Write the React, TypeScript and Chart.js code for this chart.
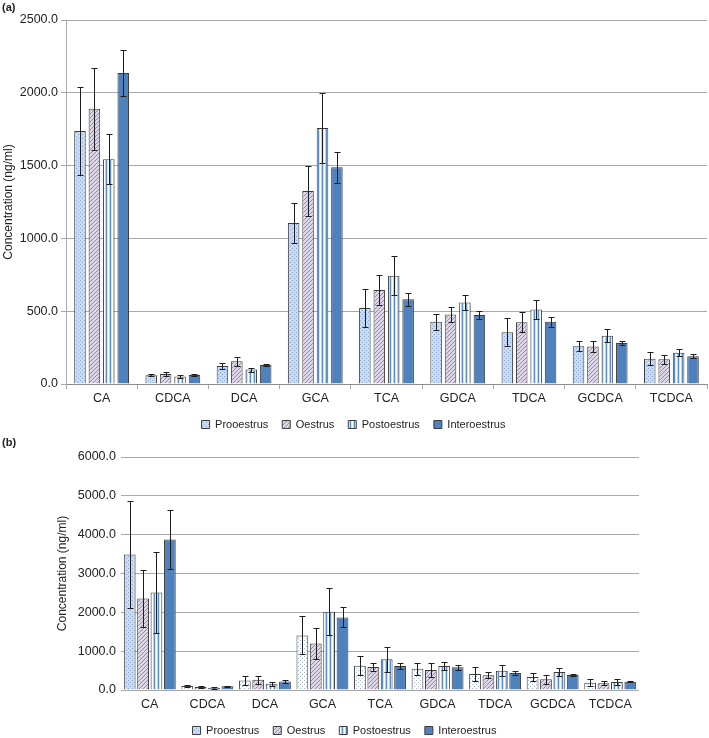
import React, { useEffect, useRef } from "react";
import { Chart, registerables } from "chart.js";

Chart.register(...registerables);

const categories = ["CA", "CDCA", "DCA", "GCA", "TCA", "GDCA", "TDCA", "GCDCA", "TCDCA"];
const seriesNames = ["Prooestrus", "Oestrus", "Postoestrus", "Interoestrus"];

// Panel (a)
const proA = [1738, 60, 124, 1106, 522, 428, 355, 259, 174];
const proAErr = [300, 8, 18, 137, 130, 56, 96, 33, 45];
const oesA = [1891, 69, 157, 1326, 646, 478, 424, 257, 170];
const oesAErr = [282, 16, 30, 172, 104, 53, 68, 37, 30];
const postA = [1543, 52, 99, 1758, 744, 559, 511, 332, 215];
const postAErr = [172, 9, 14, 238, 136, 54, 63, 45, 23];
const interA = [2136, 62, 130, 1488, 582, 474, 428, 282, 190];
const interAErr = [160, 5, 7, 107, 46, 26, 34, 15, 14];

// Panel (b)
const proB = [3489, 100, 244, 1406, 626, 549, 411, 334, 189];
const proBErr = [1385, 35, 110, 490, 240, 155, 185, 95, 90];
const oesB = [2357, 75, 262, 1200, 591, 514, 377, 274, 171];
const oesBErr = [737, 25, 110, 400, 105, 190, 80, 120, 50];
const postB = [2512, 55, 159, 2014, 789, 617, 497, 463, 206];
const postBErr = [1054, 20, 55, 610, 330, 100, 145, 100, 75];
const interB = [3875, 95, 219, 1869, 617, 583, 437, 386, 214];
const interBErr = [764, 15, 35, 257, 85, 60, 50, 35, 20];

const ticksA = [0, 500, 1000, 1500, 2000, 2500];
const ticksB = [0, 1000, 2000, 3000, 4000, 5000, 6000];

const FONT = "'Liberation Sans', Arial, sans-serif";
const TEXT = "#222222";
const GRID = "#a9a9a9";
const BORDER = "#3c3c3c";

function makePattern(w: number, h: number, draw: (c: CanvasRenderingContext2D) => void): CanvasPattern | string {
  const cv = document.createElement("canvas");
  cv.width = w;
  cv.height = h;
  const c = cv.getContext("2d")!;
  draw(c);
  const ctx = document.createElement("canvas").getContext("2d")!;
  return ctx.createPattern(cv, "repeat") || "#ccc";
}

function dots(bg: string, dot: string) {
  return makePattern(4, 4, (c) => {
    c.fillStyle = bg;
    c.fillRect(0, 0, 4, 4);
    c.fillStyle = dot;
    c.fillRect(0, 0, 1, 1);
    c.fillRect(2, 2, 1, 1);
  });
}

function hatch() {
  return makePattern(4, 4, (c) => {
    c.fillStyle = "#dcd6e8";
    c.fillRect(0, 0, 4, 4);
    c.fillStyle = "#9389ab";
    c.fillRect(3, 0, 1, 1);
    c.fillRect(2, 1, 1, 1);
    c.fillRect(1, 2, 1, 1);
    c.fillRect(0, 3, 1, 1);
  });
}

function stripes() {
  return makePattern(4, 4, (c) => {
    const cols = ["#ffffff", "#b9d3f0", "#5b8dcc", "#d8e7f7"];
    cols.forEach((col, i) => {
      c.fillStyle = col;
      c.fillRect(i, 0, 1, 4);
    });
  });
}

const errorBarPlugin = {
  id: "errorBars",
  afterDatasetsDraw(chart: any, _args: any, opts: any) {
    const errs: number[][] = opts.errors || [];
    const ctx = chart.ctx;
    const yScale = chart.scales.y;
    ctx.save();
    ctx.strokeStyle = "#1e1e1e";
    ctx.lineWidth = 1;
    chart.data.datasets.forEach((ds: any, di: number) => {
      const meta = chart.getDatasetMeta(di);
      const e = errs[di];
      if (!e) return;
      meta.data.forEach((el: any, i: number) => {
        const v = ds.data[i];
        const x = Math.round(el.x) + 0.5;
        const yTop = Math.round(yScale.getPixelForValue(v + e[i])) + 0.5;
        const yBot = Math.round(yScale.getPixelForValue(Math.max(v - e[i], 0))) + 0.5;
        ctx.beginPath();
        ctx.moveTo(x, yTop);
        ctx.lineTo(x, yBot);
        ctx.moveTo(x - 3, yTop);
        ctx.lineTo(x + 3, yTop);
        ctx.moveTo(x - 3, yBot);
        ctx.lineTo(x + 3, yBot);
        ctx.stroke();
      });
    });
    ctx.restore();
  },
};

type PanelCfg = {
  values: number[][];
  errors: number[][];
  ticks: number[];
  max: number;
  padding: { left: number; right: number; top: number; bottom: number };
  yWidth: number;
  xHeight: number;
  titlePadTop: number;
  categoryPercentage: number;
  barPercentage: number;
  panelB: boolean;
};

const cfgA: PanelCfg = {
  values: [proA, oesA, postA, interA],
  errors: [proAErr, oesAErr, postAErr, interAErr],
  ticks: ticksA,
  max: 2500,
  padding: { left: 0, right: 2, top: 20, bottom: 0 },
  yWidth: 66,
  xHeight: 21,
  titlePadTop: 1,
  categoryPercentage: 0.81,
  barPercentage: 0.8,
  panelB: false,
};

const cfgB: PanelCfg = {
  values: [proB, oesB, postB, interB],
  errors: [proBErr, oesBErr, postBErr, interBErr],
  ticks: ticksB,
  max: 6000,
  padding: { left: 50, right: 70, top: 17, bottom: 0 },
  yWidth: 71,
  xHeight: 21,
  titlePadTop: 5,
  categoryPercentage: 0.93,
  barPercentage: 0.88,
  panelB: true,
};

function Panel({ w, h, cfg }: { w: number; h: number; cfg: PanelCfg }) {
  const ref = useRef<HTMLCanvasElement>(null);
  useEffect(() => {
    if (!ref.current) return;
    const blueDots = dots("#c8dbf2", "#8ca8d0");
    const whiteDots = dots("#ffffff", "#a5b6cc");
    const hatchP = hatch();
    const stripeP = stripes();
    const proFill = cfg.panelB
      ? (c: any) => (c.type === "data" && c.dataIndex === 0 ? blueDots : whiteDots)
      : blueDots;
    const fills: any[] = [proFill, hatchP, stripeP, "#4f81bd"];
    const datasets = seriesNames.map((name, i) => ({
      label: name,
      data: cfg.values[i],
      backgroundColor: fills[i],
      borderColor: BORDER,
      borderWidth: 1,
      categoryPercentage: cfg.categoryPercentage,
      barPercentage: cfg.barPercentage,
    }));
    const chart = new Chart(ref.current, {
      type: "bar",
      data: { labels: categories, datasets },
      plugins: [errorBarPlugin],
      options: {
        animation: false,
        responsive: false,
        maintainAspectRatio: false,
        devicePixelRatio: 1,
        layout: { padding: cfg.padding },
        plugins: {
          tooltip: { enabled: false },
          errorBars: { errors: cfg.errors },
          legend: {
            position: "bottom",
            labels: {
              boxWidth: 8,
              boxHeight: 8,
              padding: 14,
              color: TEXT,
              font: { family: FONT, size: 11 },
            },
          },
        } as any,
        scales: {
          x: {
            afterFit: (s: any) => {
              s.height = cfg.xHeight;
            },
            grid: {
              display: !cfg.panelB,
              drawOnChartArea: false,
              drawTicks: !cfg.panelB,
              tickLength: 5,
              color: GRID,
            },
            border: { display: !cfg.panelB, color: "#8c8c8c" },
            ticks: {
              color: TEXT,
              font: { family: FONT, size: 12.5 },
              padding: cfg.panelB ? 7 : 2,
              maxRotation: 0,
              autoSkip: false,
            },
          },
          y: {
            min: 0,
            max: cfg.max,
            afterFit: (s: any) => {
              s.width = cfg.yWidth;
            },
            afterBuildTicks: (s: any) => {
              s.ticks = cfg.ticks.map((v) => ({ value: v }));
            },
            grid: {
              color: GRID,
              drawTicks: !cfg.panelB,
              tickLength: 5,
            },
            border: { display: !cfg.panelB, color: GRID },
            ticks: {
              color: TEXT,
              font: { family: FONT, size: 12.5 },
              padding: cfg.panelB ? 5 : 3,
              callback: (v: any) => Number(v).toFixed(1),
            },
            title: {
              display: true,
              text: "Concentration (ng/ml)",
              color: TEXT,
              font: { family: FONT, size: 12 },
              padding: { top: cfg.titlePadTop, bottom: 0 },
            },
          },
        },
      },
    });
    return () => chart.destroy();
  }, [cfg]);
  return <canvas ref={ref} width={w} height={h} style={{ width: w, height: h, display: "block" }} />;
}

export default function App() {
  useEffect(() => {
    document.body.style.margin = "0";
    document.body.style.overflow = "hidden";
  }, []);
  const labelStyle: React.CSSProperties = {
    position: "absolute",
    left: 2,
    fontFamily: FONT,
    fontWeight: "bold",
    fontSize: 11,
    lineHeight: "12px",
    color: TEXT,
  };
  return (
    <div style={{ position: "absolute", left: 0, top: 0, width: 709, height: 738, overflow: "hidden", background: "#fff" }}>
      <div style={{ position: "absolute", left: 0, top: 0 }}>
        <Panel w={709} h={440} cfg={cfgA} />
      </div>
      <div style={{ position: "absolute", left: 0, top: 440 }}>
        <Panel w={709} h={306} cfg={cfgB} />
      </div>
      <div style={{ ...labelStyle, top: 1 }}>(a)</div>
      <div style={{ ...labelStyle, top: 436 }}>(b)</div>
    </div>
  );
}
